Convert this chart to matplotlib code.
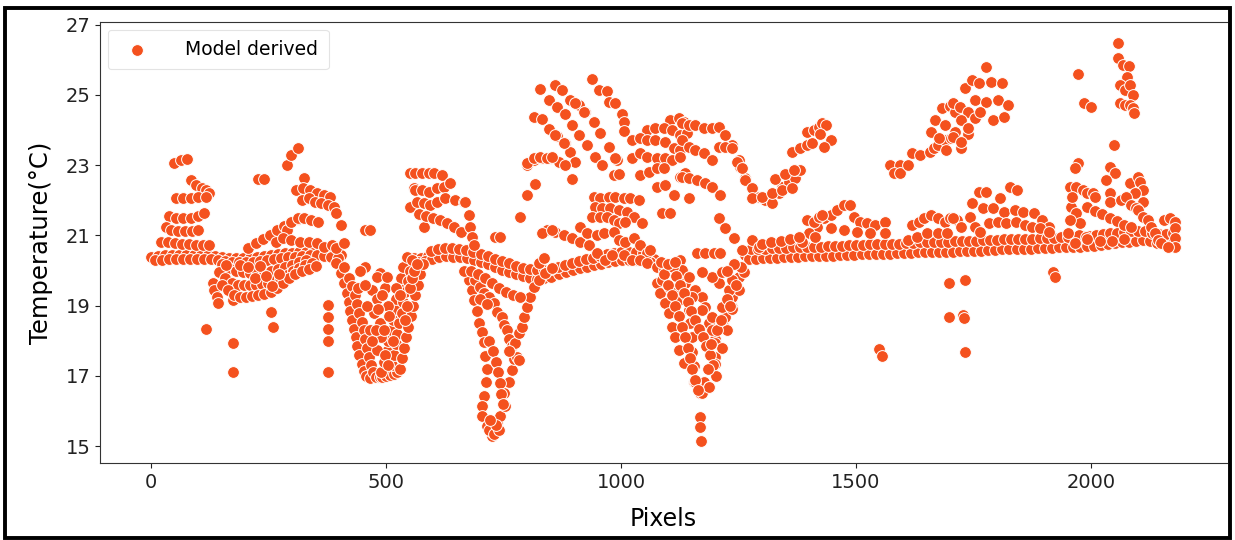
import matplotlib
matplotlib.use("Agg")
import matplotlib.pyplot as plt
from matplotlib.patches import Rectangle

# ---------------- data (x = pixel index, y = temperature in degC) ----------------
band1 = [(0,20.40),(15,20.42),(30,20.43),(45,20.44),(60,20.45),(75,20.45),(90,20.45),(105,20.45),(120,20.44),(135,20.42),
         (150,20.40),(165,20.37),(180,20.36),(195,20.36),(210,20.36),(225,20.38),(240,20.41),(255,20.45),(270,20.47),(285,20.49),
         (300,20.50),(315,20.52),(330,20.53),(345,20.53),(360,20.53),(375,20.53),(390,20.50),(405,20.45)]
band1b = [(7,20.30),(22,20.31),(37,20.32),(52,20.33),(67,20.34),(82,20.34),(97,20.34),(112,20.33),(127,20.32),(142,20.30),
          (157,20.27),(172,20.25),(187,20.24),(202,20.24),(217,20.25),(232,20.27),(247,20.30),(262,20.33),(277,20.36),(292,20.38),
          (307,20.40),(322,20.42),(337,20.43),(352,20.43),(367,20.42),(382,20.40),(397,20.35)]
band2 = [(545,20.36),(560,20.36),(575,20.36),(590,20.42),(605,20.49),(620,20.53),(635,20.52),(650,20.51),(665,20.49),(680,20.44),
         (695,20.39),(710,20.33),(725,20.26),(740,20.18),(755,20.12),(770,20.05),(785,19.98),(800,19.93),(815,19.90),(830,19.88),
         (845,19.92),(860,19.98),(875,20.03),(890,20.09),(905,20.15),(920,20.20),(935,20.25),(950,20.30),(965,20.34),(980,20.37),
         (995,20.40),(1010,20.42),(1025,20.42),(1040,20.42),(1055,20.38),(1070,20.32)]
band2b = [(552,20.24),(567,20.24),(582,20.27),(597,20.33),(612,20.39),(627,20.41),(642,20.40),(657,20.39),(672,20.35),(687,20.30),
          (702,20.24),(717,20.18),(732,20.10),(747,20.03),(762,19.97),(777,19.90),(792,19.84),(807,19.80),(822,19.77),(837,19.78),
          (852,19.83),(867,19.89),(882,19.95),(897,20.01),(912,20.06),(927,20.11),(942,20.16),(957,20.20),(972,20.24),(987,20.27),
          (1002,20.30),(1017,20.31),(1032,20.31),(1047,20.29),(1062,20.24)]
band2c = [(596,20.55),(611,20.61),(626,20.64),(641,20.63),(656,20.62),(671,20.58),(686,20.53),(701,20.47),(716,20.41),(731,20.34),
          (746,20.27),(761,20.21),(776,20.14),(791,20.08),(806,20.04),(821,20.01),(836,20.01),(851,20.05),(866,20.10),(881,20.16),
          (896,20.22),(911,20.27),(926,20.32),(941,20.37),(956,20.42),(971,20.46),(986,20.49),(1001,20.52),(1016,20.53),(1031,20.53),
          (1046,20.51)]
band3 = [(1265,20.45),(1280,20.46),(1295,20.47),(1310,20.48),(1325,20.49),(1340,20.50),(1355,20.51),(1370,20.52),(1385,20.53),(1400,20.53),
         (1415,20.53),(1430,20.53),(1445,20.54),(1460,20.55),(1475,20.56),(1490,20.57),(1505,20.58),(1520,20.59),(1535,20.59),(1550,20.59),
         (1565,20.60),(1580,20.61),(1595,20.62),(1610,20.63),(1625,20.64),(1640,20.65),(1655,20.65),(1670,20.65),(1685,20.65),(1700,20.66),
         (1715,20.67),(1730,20.67),(1745,20.68),(1760,20.69),(1775,20.70),(1790,20.71),(1805,20.72),(1820,20.73),(1835,20.73),(1850,20.73),
         (1865,20.74),(1880,20.75),(1895,20.76),(1910,20.77),(1925,20.78),(1940,20.79),(1955,20.80),(1970,20.80),(1985,20.81),(2000,20.83),
         (2015,20.85),(2030,20.88),(2045,20.90),(2060,20.92),(2075,20.94),(2090,20.96),(2105,20.98),(2120,20.95),(2135,20.90),(2150,20.87),
         (2165,20.88),(2180,20.90)]
band3b = [(1272,20.33),(1287,20.34),(1302,20.35),(1317,20.36),(1332,20.37),(1347,20.38),(1362,20.39),(1377,20.40),(1392,20.41),(1407,20.41),
          (1422,20.41),(1437,20.41),(1452,20.42),(1467,20.43),(1482,20.44),(1497,20.45),(1512,20.46),(1527,20.47),(1542,20.47),(1557,20.47),
          (1572,20.48),(1587,20.49),(1602,20.50),(1617,20.51),(1632,20.52),(1647,20.53),(1662,20.53),(1677,20.53),(1692,20.53),(1707,20.54),
          (1722,20.55),(1737,20.55),(1752,20.56),(1767,20.57),(1782,20.58),(1797,20.59),(1812,20.60),(1827,20.61),(1842,20.61),(1857,20.61),
          (1872,20.62),(1887,20.63),(1902,20.64),(1917,20.65),(1932,20.66),(1947,20.67),(1962,20.68),(1977,20.68),(1992,20.69),(2007,20.71),
          (2022,20.73),(2037,20.76),(2052,20.78),(2067,20.80),(2082,20.82),(2097,20.84),(2112,20.86),(2127,20.83),(2142,20.78),(2157,20.75),
          (2172,20.76)]
band3c = [(1276,20.60),(1291,20.61),(1306,20.62),(1321,20.63),(1336,20.64),(1351,20.65),(1366,20.66),(1381,20.67),(1396,20.68),(1411,20.68),
          (1426,20.68),(1441,20.69),(1456,20.70),(1471,20.71),(1486,20.72),(1501,20.73),(1516,20.74),(1531,20.75),(1546,20.75),(1561,20.75),
          (1576,20.76),(1591,20.77),(1606,20.78),(1621,20.79),(1636,20.80),(1651,20.81),(1666,20.81),(1681,20.81),(1696,20.82),(1711,20.83),
          (1726,20.83),(1741,20.84),(1756,20.85),(1771,20.86),(1786,20.87),(1801,20.88),(1816,20.89),(1831,20.89),(1846,20.89),(1861,20.90),
          (1876,20.91),(1891,20.92),(1906,20.93),(1921,20.94),(1936,20.95),(1951,20.96),(1966,20.96),(1981,20.97),(1996,20.99),(2011,21.01),
          (2026,21.04),(2041,21.06),(2056,21.08),(2071,21.10),(2086,21.12),(2101,21.14),(2116,21.12),(2131,21.07),(2146,21.03),(2161,21.04),
          (2176,21.06)]

fan_left = [(49,23.06),(64,23.14),(77,23.17),
            (85,22.57),(96,22.43),(107,22.35),(117,22.29),(124,22.20),
            (53,22.06),(68,22.06),(85,22.06),(100,22.08),(117,22.10),
            (38,21.55),(53,21.50),(68,21.50),(85,21.50),(100,21.55),(113,21.64),
            (32,21.24),(43,21.15),(57,21.13),(72,21.12),(86,21.14),(100,21.16),
            (21,20.82),(35,20.80),(50,20.78),(65,20.76),(80,20.75),(95,20.74),(110,20.73),(124,20.73)]
dip_left = [(132,19.65),(134,19.45),(139,19.25),(143,19.08),(175,19.17),
            (150,20.20),(165,20.08),(180,20.00),(195,19.95),(210,19.93),(225,19.95),(240,19.97),(255,20.00),(270,20.05),
            (285,20.10),(300,20.17),(315,20.25),(330,20.30),
            (145,19.95),(158,19.80),(171,19.65),(184,19.60),(197,19.58),(210,19.58),(223,19.60),(236,19.62),(249,19.65),
            (262,19.70),(275,19.78),(288,19.88),(301,19.98),(314,20.08),(327,20.15),(342,20.22),
            (150,19.60),(163,19.45),(176,19.30),(189,19.25),(202,19.25),(215,19.27),(228,19.30),(241,19.33),(254,19.38),
            (267,19.50),(280,19.65),(293,19.80),(306,19.90),(320,19.98),(335,20.05),(350,20.12),
            (190,20.15),(205,20.10),(220,19.80),(232,20.12),(245,19.85),(258,19.55),(272,19.90),(160,20.15)]
rise_left = [(207,20.65),(222,20.78),(237,20.90),(252,21.02),(267,21.15),(282,21.27),(297,21.38),(312,21.48),
             (288,21.16),(298,21.38),(313,21.50),(326,21.50),(341,21.44),(356,21.38),
             (266,20.82),(281,20.93),(298,20.87),(316,20.82),(335,20.82),(352,20.79),(367,20.67),(384,20.73),(394,20.65),(411,20.79)]
upper_left = [(228,22.60),(241,22.60),(288,23.00),(298,23.28),(313,23.50),(326,22.63),
              (309,22.29),(324,22.35),(337,22.29),(352,22.20),(367,22.15),(380,22.10),
              (320,22.00),(335,22.06),(348,21.95),(362,21.92),(377,21.87),(388,21.81),
              (394,21.64),(405,21.30)]
outliers = [(117,18.35),(173,17.95),(175,17.10),(256,18.83),(260,18.40),
            (377,19.03),(377,18.69),(377,18.35),(377,18.00),(377,17.10),
            (454,21.16),(465,21.16),(454,20.10),(580,21.24),
            (1550,17.78),(1556,17.58),(1699,19.65),(1699,18.69),(1733,19.74),(1727,18.74),(1731,18.66),(1733,17.67),
            (1919,19.96),(1923,19.82)]
valley1 = [(394,20.22),(405,19.94),(411,19.65),(416,19.37),(420,19.10),(424,18.85),(428,18.60),(431,18.35),(435,18.10),
           (439,17.85),(443,17.60),(448,17.35),(452,17.15),(458,16.99),(465,16.93),
           (410,20.10),(420,19.80),(428,19.55),(433,19.30),(438,19.05),(443,18.80),(448,18.55),(452,18.30),(456,18.05),
           (460,17.80),(464,17.55),(468,17.30),(472,17.10),(478,16.97),(486,16.96),
           (492,16.98),(500,17.00),(508,17.02),(516,17.05),(524,17.10),
           (490,17.10),(496,17.40),(501,17.70),(505,18.00),(510,18.30),(514,18.60),(518,18.90),(522,19.20),(527,19.50),
           (531,19.80),(537,20.10),(544,20.40),
           (512,17.30),(516,17.60),(520,17.90),(524,18.20),(528,18.50),(533,18.80),(537,19.10),(541,19.40),(546,19.70),
           (551,20.00),(556,20.30),
           (530,17.20),(534,17.50),(538,17.80),(542,18.10),(547,18.40),(552,18.70),(557,19.00),(562,19.30),(567,19.60),
           (572,19.90),(578,20.20),
           (470,19.45),(480,19.20),(475,18.80),(486,18.50),(490,18.10),(497,19.50),(503,19.00),(507,18.70),(480,17.75),
           (497,17.60),(486,19.94),(480,19.82),(501,19.82),(465,18.30),(460,19.00),
           (470,18.00),(478,18.30),(483,18.90),(492,19.30),(495,18.30),(505,17.30),(515,18.00),(520,19.50),(530,19.30),
           (540,18.60),(545,19.00),(550,19.50),(555,19.80),(560,20.00),(565,20.20),(440,19.50),(445,20.00),(455,19.60)]
upper_mid = [(550,22.77),(559,22.35),(550,21.80),
             (561,22.77),(576,22.77),(591,22.77),(601,22.77),(618,22.72),
             (561,22.29),(576,22.29),(591,22.23),(608,22.35),(623,22.38),(635,22.49),
             (565,21.95),(580,21.92),(593,21.87),(608,21.95),(625,22.06),(646,22.01),(665,21.95),
             (570,21.60),(585,21.55),(600,21.50),(615,21.45),(630,21.35),(645,21.25),(660,21.10),
             (667,21.95),(676,21.58),(678,21.24),(682,20.96),(687,20.73),(731,20.96),(742,20.96)]
valley2 = [(676,19.74),(682,19.45),(687,19.17),(693,18.85),(697,18.52),(704,18.26),(708,17.98),(710,17.58),(714,17.21),
           (712,16.82),(708,16.42),(704,16.14),(704,15.85),(714,15.57),(725,15.28),
           (689,19.74),(699,19.54),(708,19.37),(718,19.26),(729,19.08),(736,18.83),(746,18.69),(750,18.46),(757,18.32),
           (761,18.04),(768,17.84),
           (725,15.40),(736,15.68),(742,15.85),(753,16.14),(750,16.53),(761,16.82),(768,17.18),(772,17.47),(778,17.55),
           (774,17.95),(782,18.23),(789,18.40),(793,18.69),(800,18.97),(806,19.26),(814,19.54),(825,19.74),(838,19.94),(853,20.08),
           (718,15.45),(730,15.35),(740,15.45),(733,15.60),(722,15.75),
           (720,18.00),(727,17.70),(733,17.40),(738,17.10),(742,16.80),(745,16.50),(748,16.20),(761,17.70),(782,17.45),
           (665,20.00),(680,20.00),(695,19.90),(710,19.80),(725,19.65),(740,19.50),(755,19.40),(770,19.30),(785,19.25),
           (700,19.20),(715,19.05)]
arcs_top = [(827,25.18),(846,24.84),(863,24.65),(881,24.45),
            (859,25.27),(874,25.13),(891,24.84),(910,24.70),(923,24.50),(942,24.22),(955,23.91),(974,23.51),(991,23.14),(985,22.72),
            (814,24.36),(831,24.30),(846,24.02),(863,23.82),(881,23.62),(891,23.37),(902,23.08),
            (895,24.13),(910,23.85),(927,23.57),(944,23.23),(959,23.00),
            (938,25.44),(953,25.13),(970,25.10),(974,24.79),(987,24.76),(1002,24.45),(1006,24.22),(1006,23.96),
            (902,24.76),(921,24.50),(987,23.20),(996,22.75),
            (800,23.00),(814,23.14),(831,23.20),(849,23.20),(868,23.08),(881,23.00),(895,22.60),
            (817,22.46),(800,22.15),(785,21.52),(859,23.85),(878,23.62),
            (800,23.06),(814,23.20),(827,23.23),(842,23.20),(853,23.23)]
cluster_right_top = [(1104,24.28),(1124,24.33),(1134,24.22),
                     (1055,23.99),(1072,24.05),(1092,24.05),(1109,23.99),(1126,23.85),(1141,23.91),
                     (1023,23.71),(1040,23.77),(1055,23.71),(1072,23.71),(1094,23.65),(1113,23.48),(1126,23.43),
                     (1023,23.20),(1040,23.34),(1055,23.23),(1077,23.20),(1094,23.20),(1109,23.14),(1126,23.23),
                     (1040,22.72),(1060,22.80),(1077,22.91),(1092,22.91),(1077,22.38),(1094,22.43),(1113,22.15),
                     (1126,22.66),(1136,22.77)]
cluster_mid = [(942,22.09),(955,22.06),(974,22.09),(987,22.09),(1006,22.06),(1019,22.06),(1038,22.01),
               (944,21.81),(959,21.78),(976,21.78),(996,21.72),(1013,21.67),(1028,21.52),(1045,21.36),
               (938,21.52),(955,21.52),(970,21.52),(985,21.44),(996,21.36),(1008,21.38),
               (1087,21.64),(1104,21.64),
               (842,21.16),(859,21.10),(878,21.01),(895,20.93),(912,20.82),(932,20.73),(949,20.50),(966,20.30),
               (912,21.24),(927,21.07),(949,21.01),(964,21.07),(985,21.10),(996,20.87),(1008,20.82),(1028,20.93),
               (1040,20.73),(1055,20.50),(1062,20.59),
               (981,20.45),(1006,20.45),(1023,20.30),(1040,20.30),(1055,20.22),(1077,20.10),(1092,20.02),
               (831,21.07),(853,21.16),(825,20.22),(836,20.36)]
valley3 = [(1077,19.65),(1083,19.37),(1094,19.08),(1102,18.80),(1109,18.40),(1115,18.12),(1124,17.75),(1134,17.38),
           (1087,19.74),(1102,19.54),(1113,19.37),(1124,19.17),(1130,19.82),(1126,20.30),(1134,19.94),
           (1130,20.02),(1136,19.65),(1141,19.26),(1145,18.89),(1147,18.52),(1151,18.12),(1151,17.67),(1156,17.27),
           (1156,16.82),(1168,16.53),(1168,15.82),(1168,15.54),(1171,15.14),
           (1177,16.82),(1188,16.70),(1200,17.55),(1200,18.04),(1220,18.40),(1222,18.69),(1237,18.97),(1237,19.26),
           (1251,19.45),(1251,19.82),(1262,19.96),
           (1145,19.82),(1158,19.45),(1173,19.26),(1179,18.97),(1188,18.52),(1194,18.32),(1200,17.95),
           (1151,19.26),(1173,18.89),(1194,18.69),(1215,18.97),(1230,19.45),(1209,19.65),(1194,19.82),(1173,19.96),
           (1215,19.96),(1237,19.74),
           (1158,16.84),(1173,16.53),(1188,16.70),(1200,17.33),(1215,17.80),(1226,18.30),(1237,18.90),
           (1162,20.50),(1179,20.50),(1198,20.50),(1211,20.50),
           (1209,21.50),(1222,21.21),(1241,20.93),(1258,20.59),(1279,20.87),(1294,20.67),(1145,22.06),
           (1092,19.90),(1100,19.60),(1108,19.30),(1116,19.00),(1124,18.70),(1130,18.40),(1137,18.10),(1142,17.80),
           (1147,17.50),(1152,17.20),(1158,16.90),(1164,16.60),
           (1110,20.10),(1118,19.85),(1126,19.60),(1134,19.35),(1142,19.10),(1150,18.85),(1158,18.60),(1166,18.35),
           (1174,18.10),(1182,17.85),(1190,17.60),(1196,17.30),(1202,17.00),
           (1185,17.20),(1192,17.90),(1205,18.30),(1212,18.60),(1225,19.20),(1232,19.00),(1245,19.60),(1256,20.10),
           (1240,20.20),(1225,20.00),(1085,20.25),(1100,20.20),(1115,20.25)]
upper_right_arches = [(1130,24.19),(1145,24.13),(1158,24.13),(1177,24.05),(1194,24.05),(1209,24.08),(1222,23.85),
                      (1237,23.57),(1251,23.14),(1254,22.94),(1264,22.63),(1279,22.35),(1294,22.09),(1307,22.01),(1322,21.92),
                      (1130,23.71),(1145,23.51),(1158,23.43),(1177,23.34),(1194,23.14),(1209,23.51),(1222,23.51),(1237,23.48),
                      (1247,23.08),(1258,22.91),(1264,22.57),(1279,22.35),(1294,22.09),
                      (1130,22.66),(1145,22.63),(1162,22.57),(1179,22.49),(1194,22.38),(1211,22.15),
                      (1337,22.21),(1343,22.38),(1358,22.52),(1371,22.63),(1371,22.86),(1382,22.86),
                      (1328,22.60),(1350,22.75),(1369,22.86),(1279,22.06),(1301,22.10),(1322,22.20),(1343,22.30),(1364,22.35),
                      (1364,23.37),(1382,23.48),(1396,23.57),(1407,23.62),(1396,23.94),(1411,23.99),(1422,24.08),(1428,24.19),
                      (1437,24.13),(1446,23.71),(1433,23.51),(1424,23.90)]
strands_mid_right = [(1433,21.50),(1446,21.58),(1460,21.72),(1475,21.87),(1488,21.87),
                     (1497,21.52),(1509,21.38),(1524,21.36),(1541,21.30),(1563,21.38),
                     (1418,21.24),(1446,21.21),(1475,21.16),(1503,21.10),(1531,21.07),(1561,21.07),
                     (1620,21.30),(1635,21.38),(1646,21.50),(1659,21.58),(1674,21.50),(1689,21.38),(1701,21.50),(1716,21.44),
                     (1610,20.87),(1631,20.96),(1652,21.07),(1674,21.07),(1695,21.07),
                     (1396,21.44),(1411,21.38),(1422,21.52),(1428,21.58),(1401,21.07),(1414,20.96),(1386,20.82),
                     (1300,20.75),(1320,20.80),(1340,20.85),(1360,20.90),(1380,20.95)]
fan_right = [(1573,23.00),(1593,23.00),(1582,22.77),(1595,22.77),(1610,23.00),
             (1620,23.34),(1637,23.28),(1657,23.37),(1667,23.48),(1674,23.57),(1689,23.71),(1703,23.77),
             (1659,23.94),(1669,24.28),(1689,24.13),(1710,23.94),(1691,23.43),(1678,23.77),
             (1684,24.62),(1701,24.68),(1710,24.50),(1776,25.78),
             (1733,25.20),(1748,25.41),(1763,25.33),(1787,25.36),(1812,25.33),
             (1706,24.76),(1721,24.65),(1738,24.50),(1753,24.84),(1776,24.79),(1802,24.84),(1823,24.70),
             (1723,24.28),(1753,24.33),(1765,24.50),(1791,24.28),(1816,24.36),
             (1706,23.80),(1738,23.90),(1723,23.50),(1738,24.05),(1723,23.65)]
cluster_far_right = [(1763,22.23),(1776,22.23),(1806,22.06),(1829,22.38),(1844,22.29),
                     (1748,21.92),(1770,21.78),(1791,21.78),(1816,21.67),(1838,21.72),(1855,21.67),(1880,21.64),(1897,21.44),(1912,21.24),
                     (1706,21.50),(1742,21.52),(1723,21.24),(1753,21.24),(1765,21.10),(1784,21.36),(1802,21.38),(1819,21.36),
                     (1840,21.38),(1859,21.30),(1876,21.24),(1893,21.21),(1912,21.10),
                     (1957,21.81),(1968,21.64),(1978,21.36),(1955,21.44),(1976,21.01),(1989,20.96),(1966,20.79),(1951,21.07),
                     (1955,22.38),(1968,22.38),(1983,22.29),(1993,22.20),(1961,22.09),(1972,23.06),(1966,22.92),
                     (1972,25.60),(1985,24.78),(2000,24.65)]
right_end = [(2057,26.49),(2057,26.06),(2068,25.84),(2081,25.81),(2077,25.50),(2062,25.27),(2072,25.13),(2083,25.27),
             (2089,24.99),(2062,24.76),(2072,24.70),(2083,24.70),(2089,24.62),(2092,24.48),
             (2049,23.57),(2040,22.94),(2051,22.77),(2032,22.57),
             (2083,22.49),(2100,22.66),(2104,22.52),(2111,22.29),(2094,22.20),(2111,21.95),
             (2004,22.20),(2008,22.09),(2042,22.20),(2040,21.95),(2064,22.00),(2074,22.09),(2085,21.87),(2096,21.78),
             (1993,21.80),(2010,21.70),(2025,21.60),(2040,21.50),(2055,21.40),(2070,21.30),(2085,21.25),
             (1993,20.90),(2020,20.85),(2045,20.85),(2070,20.90),
             (2100,21.72),(2111,21.52),(2121,21.44),(2128,21.24),(2136,21.07),(2143,20.87),(2149,20.79),
             (2157,21.44),(2168,21.50),(2179,21.38),(2180,21.21),(2180,20.93),(2180,20.67),(2164,20.67)]

groups = [band1, band1b, band2, band2b, band2c, band3, band3b, band3c, fan_left, dip_left, rise_left, upper_left,
          outliers, valley1, upper_mid, valley2, arcs_top, cluster_right_top, cluster_mid, valley3,
          upper_right_arches, strands_mid_right, fan_right, cluster_far_right, right_end]

xs, ys = [], []
for g in groups:
    for px_, py_ in g:
        xs.append(px_)
        ys.append(py_)

# ---------------- plot ----------------
plt.rcParams['font.family'] = ['DejaVu Sans']
fig = plt.figure(figsize=(12.35, 5.4), dpi=100)
ax = fig.add_axes([0.081, 0.143, 0.9125, 0.816])

color = '#F4511E'
ax.scatter(xs, ys, s=72, color=color, edgecolor='white', linewidth=0.7, label='Model derived', zorder=3)

ax.set_xlim(-109, 2290)
ax.set_ylim(14.53, 27.07)
ax.set_xticks([0, 500, 1000, 1500, 2000])
ax.set_yticks([15, 17, 19, 21, 23, 25, 27])
ax.tick_params(axis='both', labelsize=14, colors='#222222', length=3.5, width=0.8)
ax.set_xlabel('Pixels', fontsize=17, labelpad=11)
ax.set_ylabel('Temperature(°C)', fontsize=17.5, labelpad=9)

for side in ['top', 'left', 'bottom']:
    ax.spines[side].set_linewidth(0.8)
    ax.spines[side].set_color('#333333')
ax.spines['right'].set_visible(False)

leg = ax.legend(loc='upper left', fontsize=13.5, handletextpad=1.6, borderpad=0.55,
                frameon=True, fancybox=True, edgecolor='#dddddd', borderaxespad=0.4)
leg.get_frame().set_linewidth(0.8)

fig.patches.append(Rectangle((0.004, 0.004), 0.992, 0.982, transform=fig.transFigure,
                             fill=False, edgecolor='black', linewidth=2.8, zorder=10))

fig.savefig('out.png', dpi=100, facecolor='white')
